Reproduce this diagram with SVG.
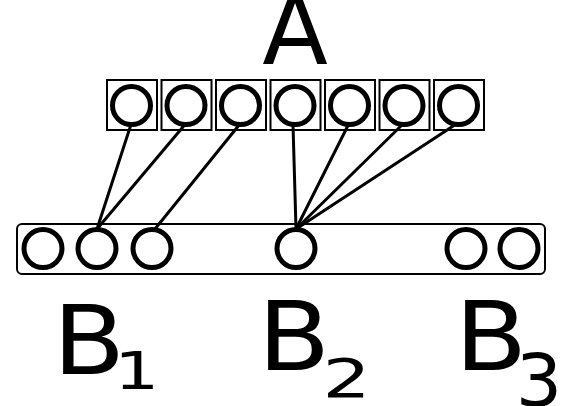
<svg xmlns="http://www.w3.org/2000/svg" width="562" height="406" viewBox="0 0 562 406">
<style>
.box{fill:#fff;stroke:#000;stroke-width:2}
.c{fill:#fff;stroke:#000;stroke-width:5}
.ln{stroke:#000;stroke-width:3;stroke-linecap:round;fill:none}
.t{font-family:"DejaVu Sans",sans-serif;fill:#000}
</style>
<rect width="562" height="406" fill="#fff"/>
<g id="container-B">
<rect class="box" x="17" y="224" width="528" height="50" rx="5"/>
</g>
<g id="A-boxes">
<rect class="box" x="107" y="80" width="50" height="50"/>
<rect class="box" x="161.5" y="80" width="50" height="50"/>
<rect class="box" x="216" y="80" width="50" height="50"/>
<rect class="box" x="270.5" y="80" width="50" height="50"/>
<rect class="box" x="325" y="80" width="50" height="50"/>
<rect class="box" x="379.5" y="80" width="50" height="50"/>
<rect class="box" x="434" y="80" width="50" height="50"/>
</g>
<g id="connectors">
<line class="ln" x1="131" y1="124.5" x2="97" y2="229"/>
<line class="ln" x1="185" y1="124.5" x2="97" y2="229"/>
<line class="ln" x1="239.5" y1="124.5" x2="155" y2="229"/>
<line class="ln" x1="293" y1="124.5" x2="296" y2="229"/>
<line class="ln" x1="348.5" y1="124.5" x2="296" y2="229"/>
<line class="ln" x1="403" y1="124" x2="296" y2="229"/>
<line class="ln" x1="457" y1="123.5" x2="296" y2="229"/>
</g>
<g id="A-nodes">
<circle id="a1" class="c" cx="131.5" cy="105.5" r="19"/>
<circle id="a2" class="c" cx="186" cy="105.5" r="19"/>
<circle id="a3" class="c" cx="240.5" cy="105.5" r="19"/>
<circle id="a4" class="c" cx="295" cy="105.5" r="19"/>
<circle id="a5" class="c" cx="349.5" cy="105.5" r="19"/>
<circle id="a6" class="c" cx="404" cy="105.5" r="19"/>
<circle id="a7" class="c" cx="458.5" cy="105.5" r="19"/>
</g>
<g id="B-nodes">
<circle id="b1" class="c" cx="43" cy="248.5" r="19"/>
<circle id="b2" class="c" cx="97" cy="248.5" r="19"/>
<circle id="b3" class="c" cx="152" cy="248.5" r="19"/>
<circle id="b4" class="c" cx="296" cy="248.5" r="19"/>
<circle id="b5" class="c" cx="466" cy="248.5" r="19"/>
<circle id="b6" class="c" cx="519" cy="248.5" r="19"/>
</g>
<g id="labels">
<text class="t" x="295" y="64" font-size="96" text-anchor="middle">A</text>
<text class="t" transform="translate(52.7,374) scale(1.1,1)" font-size="96">B</text>
<text class="t" transform="translate(114,389) scale(1.4,1)" font-size="51">1</text>
<text class="t" transform="translate(257.7,370) scale(1.1,1)" font-size="96">B</text>
<text class="t" transform="translate(322.4,397) scale(1.43,1)" font-size="53">2</text>
<text class="t" transform="translate(454.7,370) scale(1.1,1)" font-size="96">B</text>
<text class="t" transform="translate(515.7,406) scale(1,1)" font-size="73">3</text>
</g>
</svg>
